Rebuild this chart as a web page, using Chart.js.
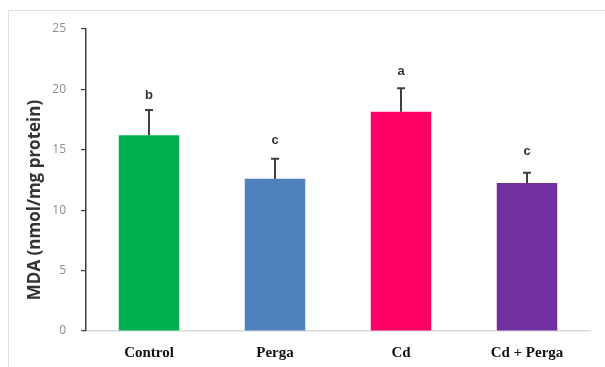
<!DOCTYPE html>
<html lang="en">

<head>
  <meta charset="UTF-8">
  <title>MDA levels</title>
  <style>
/* Page */
body {
  margin: 0;
  background-color: #ffffff;
}

/* Light frame round the figure */
.frame {
  position: absolute;
  left: 8px;
  top: 10px;
  width: 605px;
  height: 367px;
  border-left: 1px solid #dedede;
  border-top: 1px solid #dedede;
}

.chart-container {
  position: absolute;
  left: 0;
  top: 0;
  width: 605px;
  height: 367px;
}
  </style>
</head>

<body>
  <div class="frame"></div>
  <div class="chart-container">
    <canvas id="mdaChart" width="605" height="367"></canvas>
  </div>

  <script src="https://cdn.jsdelivr.net/npm/chart.js"></script>
  <script>
    // Data
    const groups = ['Control', 'Perga', 'Cd', 'Cd + Perga'];
    const mdaMeans = [16.2, 12.6, 18.15, 12.25];
    const mdaErrors = [2.1, 1.65, 1.95, 0.85];
    const sigLetters = ['b', 'c', 'a', 'c'];
    const letterLevels = [19.5, 15.8, 21.5, 14.9];
    const barColors = ['#00b050', '#4f81bd', '#ff0066', '#7030a0'];
    const yTicks = [0, 5, 10, 15, 20, 25];
    const yTitle = 'MDA (nmol/mg protein)';

    // Upper error bars, significance letters and the y-axis title
    const errorBarPlugin = {
      id: 'errorBars',
      afterDatasetsDraw(chart) {
        const ctx = chart.ctx;
        const yScale = chart.scales.y;
        const meta = chart.getDatasetMeta(0);
        ctx.save();
        meta.data.forEach((bar, i) => {
          const x = bar.x;
          const yTop = yScale.getPixelForValue(mdaMeans[i] + mdaErrors[i]);
          const yBase = yScale.getPixelForValue(mdaMeans[i]);
          ctx.strokeStyle = '#404040';
          ctx.lineWidth = 2;
          ctx.beginPath();
          ctx.moveTo(x, yBase);
          ctx.lineTo(x, yTop);
          ctx.moveTo(x - 4, yTop);
          ctx.lineTo(x + 4, yTop);
          ctx.stroke();

          ctx.fillStyle = '#333333';
          ctx.font = 'bold 13px "Liberation Sans", Arial, sans-serif';
          ctx.textAlign = 'center';
          ctx.textBaseline = 'middle';
          ctx.fillText(sigLetters[i], x, yScale.getPixelForValue(letterLevels[i]));
        });

        // axis title sits a bit below the middle of the axis in the original
        ctx.translate(35, 200);
        ctx.rotate(-Math.PI / 2);
        ctx.fillStyle = '#333333';
        ctx.font = 'bold 17px "Open Sans", Arial, sans-serif';
        ctx.textAlign = 'center';
        ctx.textBaseline = 'middle';
        ctx.fillText(yTitle, 0, 0);
        ctx.restore();
      }
    };

    const ctx = document.getElementById('mdaChart').getContext('2d');

    new Chart(ctx, {
      type: 'bar',
      data: {
        labels: groups,
        datasets: [{
          label: 'MDA',
          data: mdaMeans,
          backgroundColor: barColors,
          borderWidth: 0,
          barPercentage: 0.48,
          categoryPercentage: 1.0
        }]
      },
      options: {
        responsive: false,
        animation: false,
        layout: {
          padding: { top: 29, right: 15, left: 0, bottom: 0 }
        },
        plugins: {
          legend: { display: false },
          tooltip: { enabled: false }
        },
        scales: {
          x: {
            grid: { display: false, drawTicks: false },
            border: { display: true, color: '#d9d9d9', width: 1.5 },
            ticks: {
              color: '#111111',
              padding: 13,
              font: { family: '"Liberation Serif", "Times New Roman", serif', size: 15, weight: 'bold' }
            },
            afterFit(scale) {
              scale.height = 36;
            }
          },
          y: {
            min: 0,
            max: 25,
            afterBuildTicks(scale) {
              scale.ticks = yTicks.map(v => ({ value: v }));
            },
            grid: {
              display: true,
              drawOnChartArea: false,
              drawTicks: true,
              tickLength: 5,
              color: '#404040',
              lineWidth: 1.2
            },
            border: { display: true, color: '#404040', width: 1.5 },
            ticks: {
              color: '#8c8c8c',
              padding: 15,
              font: { family: '"Open Sans", Arial, sans-serif', size: 12 }
            },
            afterFit(scale) {
              scale.width = 86;
            }
          }
        }
      },
      plugins: [errorBarPlugin]
    });
  </script>
</body>

</html>
